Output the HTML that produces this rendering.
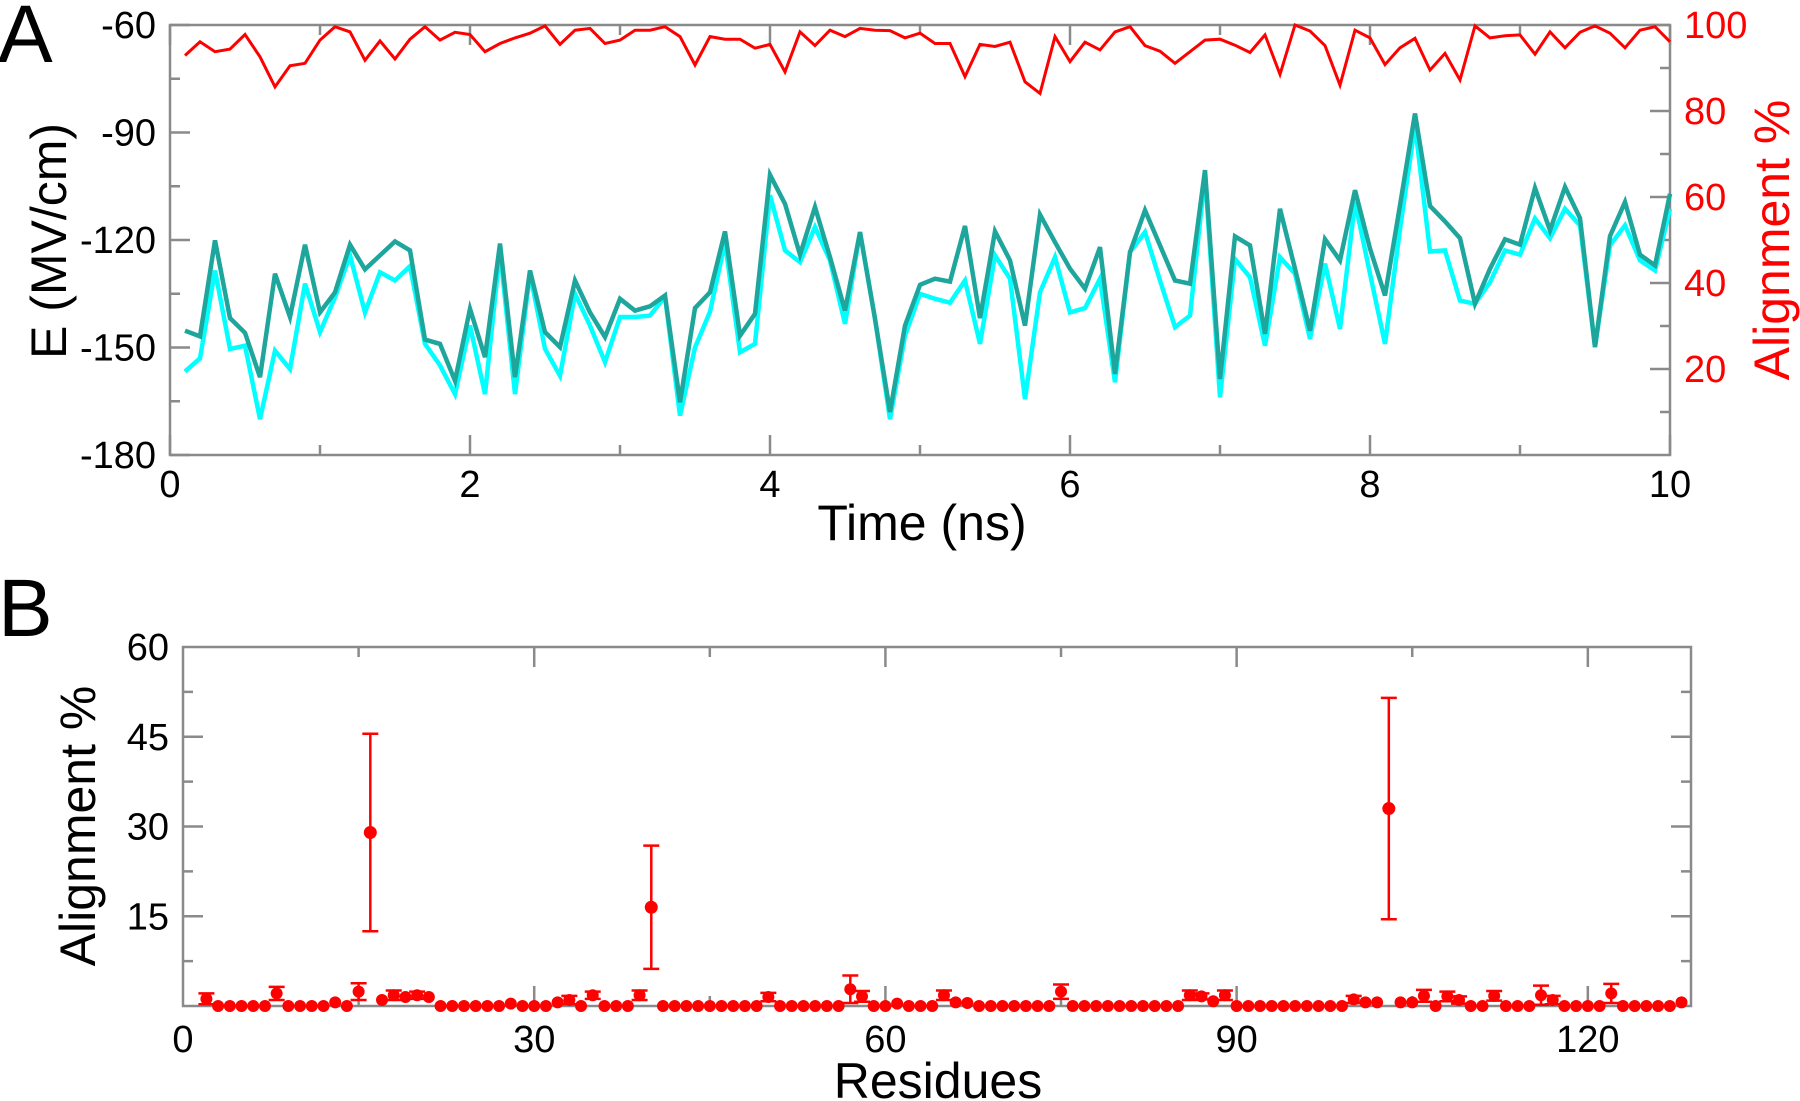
<!DOCTYPE html>
<html><head><meta charset="utf-8"><style>
html,body{margin:0;padding:0;background:#fff;}
svg{display:block;font-family:"Liberation Sans",Arial,sans-serif;}
</style></head><body>
<svg id="fig" width="1800" height="1101" viewBox="0 0 1800 1101">
<g id="pa"></g>
<g id="pb"></g>
</svg>
<script>
// ---------- Panel A data ----------
const timeStart = 0.1, timeStep = 0.1;
const fieldTotal = [-145.3,-146.9,-120.1,-141.8,-145.9,-158.3,-129.4,-141.5,-121.3,-140.2,-134.6,-121.3,-128.2,-124.3,-120.4,-122.9,-147.8,-149,-159.3,-139.2,-152.7,-121,-158.3,-128.5,-145.7,-149.9,-131.3,-140.2,-147.1,-136.4,-139.7,-138.5,-135.5,-165.3,-139,-134.6,-117.6,-146.7,-140.6,-101.8,-109.9,-124.1,-110.8,-124.8,-139.7,-117.8,-142,-168,-143.9,-132.5,-130.8,-131.6,-116.1,-141.8,-117.6,-125.7,-143.9,-112.9,-120.6,-128,-133.6,-122,-157.4,-123.4,-111.7,-121.5,-131.3,-132.2,-100.5,-158.8,-119,-121.5,-146.2,-111.3,-128,-145.3,-119.8,-125.7,-106.1,-122.4,-135.5,-110.3,-84.7,-110.5,-114.8,-119.5,-137.8,-128,-119.8,-121.3,-105.5,-117.3,-105.2,-113.9,-149.9,-118.9,-109.4,-124.1,-127.1,-107.1];
const fieldComp = [-156.7,-153,-128.5,-150.4,-149.5,-170,-150.9,-156,-132.2,-145.7,-136,-124.3,-140.2,-129,-131.3,-127.3,-149,-155,-163,-143.9,-163,-122.9,-163,-129.4,-150.4,-157.9,-135,-143.9,-154.1,-141.5,-141.5,-141.1,-135.8,-169,-150,-140,-120.6,-151.3,-149,-107.5,-122.9,-126.2,-116.4,-125.7,-143.4,-117.8,-142,-170,-146.7,-135,-136.4,-137.5,-131.3,-149,-124.3,-130.8,-164.4,-134.6,-124.8,-140.2,-139,-130.8,-159.7,-123.4,-117.8,-131.3,-144.3,-141.1,-101.9,-163.9,-125.3,-130.4,-149.5,-124.8,-129.4,-147.6,-126.6,-144.8,-109.4,-129.4,-149,-116.9,-88,-123.2,-122.9,-136.9,-137.8,-131.8,-122.9,-124.1,-114,-119.5,-111.3,-115.9,-149.9,-121.5,-115.9,-125.7,-128.5,-111.3];
const alignA = [92.9,96.1,93.8,94.4,97.8,92.6,85.6,90.5,91.1,96.5,99.6,98.4,91.8,96.3,92.1,96.7,99.6,96.5,98.3,97.8,93.8,95.7,97,98.1,99.8,95.5,98.8,99.2,95.7,96.5,98.8,98.8,99.6,97.3,90.7,97.3,96.7,96.7,94.6,95.5,89.1,98.4,95.2,98.8,97.3,99.2,98.8,98.7,97,98.1,95.7,95.7,88,95.5,95,96,86.8,84.1,97.3,91.5,96,94.2,98.4,99.6,95.2,93.9,91.1,93.8,96.5,96.7,95.3,93.6,97.7,88.5,100,98.6,95.2,86,98.8,97,90.8,94.7,96.9,89.5,93.4,87.2,99.8,97,97.5,97.7,93.2,98.4,94.7,98.3,99.8,98.1,94.7,98.8,99.6,96.1];
const xTicksA = [0,2,4,6,8,10];
const yTicksA = [-180,-150,-120,-90,-60];
const rTicksA = [20,40,60,80,100];

// ---------- Panel B data ----------
const residues = []; for (let r=2;r<=128;r++) residues.push(r);
const bigRes = [16,40,103];
const bigVal = [29,16.5,33];
const bigErr = [16.5,10.3,18.5];
const smallRes = [2,8,13,15,17,18,19,20,21,28,32,33,35,39,50,57,58,61,65,66,67,75,86,87,88,89,100,101,102,104,105,106,108,109,112,116,117,122,128];
const smallVal = [1.2,2.1,0.6,2.4,1.0,1.8,1.5,1.8,1.5,0.4,0.6,1.0,1.8,1.8,1.5,2.8,1.6,0.4,1.8,0.6,0.5,2.4,1.8,1.6,0.8,1.8,1.1,0.6,0.6,0.6,0.6,1.7,1.6,1.0,1.7,1.8,1.0,2.1,0.6];
const smallErr = [0.9,1.1,0,1.4,0,0.8,0,0.6,0,0,0,0.7,0.6,0.8,0.7,2.3,0.9,0,0.8,0,0,1.2,0.8,0.5,0,0.8,0.6,0,0,0,0,1.0,0.8,0.6,0.8,1.6,0.7,1.6,0];
const xTicksB = [0,30,60,90,120];
const yTicksB = [15,30,45,60];

const NS='http://www.w3.org/2000/svg';
function mk(parent,tag,attrs,text){const e=document.createElementNS(NS,tag);for(const k in attrs)e.setAttribute(k,attrs[k]);if(text!==undefined)e.textContent=text;parent.appendChild(e);return e;}
const AX='#8a8a8a';
const TF=38, TT=50;

// ---------- Panel A ----------
const pa=document.getElementById('pa');
const A={l:170,r:1670,t:25,b:455};
const xA=t=>A.l+(t/10)*(A.r-A.l);
const yA=v=>A.t+(-60-v)/120*(A.b-A.t);
const yR=v=>A.b-(v/100)*(A.b-A.t);
let el;
el=mk(pa,'text',{x:-2,y:62,'font-size':82,fill:'#000'},'A');


el=mk(pa,'rect',{x:A.l,y:A.t,width:A.r-A.l,height:A.b-A.t,fill:'none',stroke:AX,'stroke-width':2.5});


for(let t=0;t<=10;t++){const x=xA(t),L=t%2===0?20:10;
 el=mk(pa,'path',{d:`M${x},${A.b}v${-L}M${x},${A.t}v${L}`,stroke:AX,'stroke-width':2.5});
 
 }
for(let v=-180;v<=-60;v+=15){const y=yA(v),L=v%30===0?20:10;
 el=mk(pa,'path',{d:`M${A.l},${y}h${L}`,stroke:AX,'stroke-width':2.5});
 
 }
for(let v=10;v<=100;v+=10){const y=yR(v),L=v%20===0?20:10;
 el=mk(pa,'path',{d:`M${A.r},${y}h${-L}`,stroke:AX,'stroke-width':2.5});
 
 }
xTicksA.forEach(t=>{el=mk(pa,'text',{x:xA(t),y:497,'font-size':TF,'text-anchor':'middle',fill:'#000'},t);
 
 });
yTicksA.forEach(v=>{el=mk(pa,'text',{x:156,y:yA(v)+13,'font-size':TF,'text-anchor':'end',fill:'#000'},v);
 
 });
rTicksA.forEach(v=>{el=mk(pa,'text',{x:1684,y:yR(v)+13,'font-size':TF,'text-anchor':'start',fill:'#ff0000'},v);
 
 });
el=mk(pa,'text',{x:922,y:540,'font-size':TT,'text-anchor':'middle',fill:'#000'},'Time (ns)');


el=mk(pa,'text',{x:0,y:0,'font-size':TT,'text-anchor':'middle',fill:'#000',transform:'translate(66,241) rotate(-90)','xml:space':'preserve'},'E  (MV/cm)');


el=mk(pa,'text',{x:0,y:0,'font-size':TT,'text-anchor':'middle',fill:'#ff0000',transform:'translate(1789,240) rotate(-90)'},'Alignment %');


function lineA(arr,fy,color,w,name){
 const d=arr.map((v,i)=>(i?'L':'M')+xA(timeStart+i*timeStep).toFixed(1)+','+fy(v).toFixed(1)).join('');
 const p=mk(pa,'path',{d:d,fill:'none',stroke:color,'stroke-width':w,'stroke-linejoin':'miter'});
 
 }
lineA(fieldComp,yA,'#00ffff',4.5,'field-series-light');
lineA(fieldTotal,yA,'#1ea69d',4.5,'field-series-dark');
lineA(alignA,yR,'#ff0000',3,'alignment-series');

// ---------- Panel B ----------
const pb=document.getElementById('pb');
const B={l:183,r:1691,t:647,b:1006};
const xB=r=>B.l+r*11.707;
const yB=v=>B.b-(v/60)*(B.b-B.t);
el=mk(pb,'text',{x:-2,y:636,'font-size':82,fill:'#000'},'B');


el=mk(pb,'rect',{x:B.l,y:B.t,width:B.r-B.l,height:B.b-B.t,fill:'none',stroke:AX,'stroke-width':2.5});


for(let r=15;r<=120;r+=15){const x=xB(r),L=r%30===0?20:10;
 el=mk(pb,'path',{d:`M${x},${B.b}v${-L}M${x},${B.t}v${L}`,stroke:AX,'stroke-width':2.5});
 
 }
for(let v=7.5;v<60;v+=7.5){const y=yB(v),L=(v%15===0)?20:10;
 el=mk(pb,'path',{d:`M${B.l},${y}h${L}M${B.r},${y}h${-L}`,stroke:AX,'stroke-width':2.5});
 
 }
xTicksB.forEach(r=>{el=mk(pb,'text',{x:xB(r),y:1052,'font-size':TF,'text-anchor':'middle',fill:'#000'},r);
 
 });
yTicksB.forEach(v=>{el=mk(pb,'text',{x:169,y:yB(v)+13,'font-size':TF,'text-anchor':'end',fill:'#000'},v);
 
 });
el=mk(pb,'text',{x:938,y:1098,'font-size':TT,'text-anchor':'middle',fill:'#000'},'Residues');


el=mk(pb,'text',{x:0,y:0,'font-size':TT,'text-anchor':'middle',fill:'#000',transform:'translate(95,826) rotate(-90)'},'Alignment %');


function errPt(r,v,e,rad,name){
 const x=xB(r);
 if(e>0){
  const d=`M${x},${yB(v+e)}V${yB(Math.max(v-e,0))}M${x-8},${yB(v+e)}h16`+(v-e>0?`M${x-8},${yB(v-e)}h16`:'');
  const p=mk(pb,'path',{d:d,stroke:'#ff0000','stroke-width':2.5,fill:'none'});
  
  
 }
 const c=mk(pb,'circle',{cx:x,cy:yB(v),r:rad,fill:'#ff0000'});
 
 }
residues.forEach(r=>{
 const i=smallRes.indexOf(r), j=bigRes.indexOf(r);
 if(j>=0) errPt(r,bigVal[j],bigErr[j],6.5,'residue-point');
 else if(i>=0) errPt(r,smallVal[i],smallErr[i],6,'residue-point');
 else errPt(r,0,0,6,'residue-point');
});
</script>
</body></html>
